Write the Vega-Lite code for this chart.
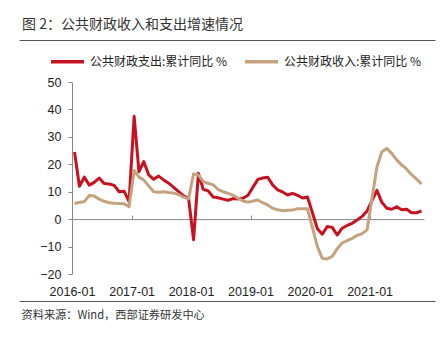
{
  "$schema": "https://vega.github.io/schema/vega-lite/v6.json",
  "width": 416,
  "height": 261,
  "autosize": "none",
  "padding": {"left": 19, "top": 40, "right": 12, "bottom": 39},
  "background": "white",
  "config": {
    "view": {"stroke": "#555555", "strokeWidth": 1, "strokeDash": [416, 261, 416, 261]},
    "font": "Liberation Sans"
  },
  "title": {
    "text": "图 2：公共财政收入和支出增速情况",
    "anchor": "start",
    "frame": "group",
    "dx": 3,
    "offset": 8,
    "fontSize": 14,
    "font": "Noto Sans CJK SC",
    "fontWeight": "normal",
    "color": "#333333"
  },
  "data": {
    "values": [
      {"date": "2016-01", "公共财政支出:累计同比 %": 24.5, "公共财政收入:累计同比 %": 5.7},
      {"date": "2016-02", "公共财政支出:累计同比 %": 12.0, "公共财政收入:累计同比 %": 6.1},
      {"date": "2016-03", "公共财政支出:累计同比 %": 15.3, "公共财政收入:累计同比 %": 6.4},
      {"date": "2016-04", "公共财政支出:累计同比 %": 12.4, "公共财政收入:累计同比 %": 8.6},
      {"date": "2016-05", "公共财政支出:累计同比 %": 13.4, "公共财政收入:累计同比 %": 8.4},
      {"date": "2016-06", "公共财政支出:累计同比 %": 15.0, "公共财政收入:累计同比 %": 7.3},
      {"date": "2016-07", "公共财政支出:累计同比 %": 13.0, "公共财政收入:累计同比 %": 6.5},
      {"date": "2016-08", "公共财政支出:累计同比 %": 12.8, "公共财政收入:累计同比 %": 6.0},
      {"date": "2016-09", "公共财政支出:累计同比 %": 12.3, "公共财政收入:累计同比 %": 5.8},
      {"date": "2016-10", "公共财政支出:累计同比 %": 10.0, "公共财政收入:累计同比 %": 5.7},
      {"date": "2016-11", "公共财政支出:累计同比 %": 10.2, "公共财政收入:累计同比 %": 5.6},
      {"date": "2016-12", "公共财政支出:累计同比 %": 6.4, "公共财政收入:累计同比 %": 4.5},
      {"date": "2017-01", "公共财政支出:累计同比 %": 37.5, "公共财政收入:累计同比 %": 17.7},
      {"date": "2017-02", "公共财政支出:累计同比 %": 17.3, "公共财政收入:累计同比 %": 15.3},
      {"date": "2017-03", "公共财政支出:累计同比 %": 21.0, "公共财政收入:累计同比 %": 14.3},
      {"date": "2017-04", "公共财政支出:累计同比 %": 16.1, "公共财政收入:累计同比 %": 12.1},
      {"date": "2017-05", "公共财政支出:累计同比 %": 14.5, "公共财政收入:累计同比 %": 10.0},
      {"date": "2017-06", "公共财政支出:累计同比 %": 15.7, "公共财政收入:累计同比 %": 9.8},
      {"date": "2017-07", "公共财政支出:累计同比 %": 14.3, "公共财政收入:累计同比 %": 10.0},
      {"date": "2017-08", "公共财政支出:累计同比 %": 13.1, "公共财政收入:累计同比 %": 9.7},
      {"date": "2017-09", "公共财政支出:累计同比 %": 11.6, "公共财政收入:累计同比 %": 9.5},
      {"date": "2017-10", "公共财政支出:累计同比 %": 10.0, "公共财政收入:累计同比 %": 9.0},
      {"date": "2017-11", "公共财政支出:累计同比 %": 8.5, "公共财政收入:累计同比 %": 8.0},
      {"date": "2017-12", "公共财政支出:累计同比 %": 7.6, "公共财政收入:累计同比 %": 7.4},
      {"date": "2018-01", "公共财政支出:累计同比 %": -7.5, "公共财政收入:累计同比 %": 16.5},
      {"date": "2018-02", "公共财政支出:累计同比 %": 16.7, "公共财政收入:累计同比 %": 16.1},
      {"date": "2018-03", "公共财政支出:累计同比 %": 10.9, "公共财政收入:累计同比 %": 13.7},
      {"date": "2018-04", "公共财政支出:累计同比 %": 10.3, "公共财政收入:累计同比 %": 13.1},
      {"date": "2018-05", "公共财政支出:累计同比 %": 8.1, "公共财政收入:累计同比 %": 12.5},
      {"date": "2018-06", "公共财政支出:累计同比 %": 7.8, "公共财政收入:累计同比 %": 10.8},
      {"date": "2018-07", "公共财政支出:累计同比 %": 7.3, "公共财政收入:累计同比 %": 10.0},
      {"date": "2018-08", "公共财政支出:累计同比 %": 6.9, "公共财政收入:累计同比 %": 9.4},
      {"date": "2018-09", "公共财政支出:累计同比 %": 7.5, "公共财政收入:累计同比 %": 8.7},
      {"date": "2018-10", "公共财政支出:累计同比 %": 7.3, "公共财政收入:累计同比 %": 7.6},
      {"date": "2018-11", "公共财政支出:累计同比 %": 7.6, "公共财政收入:累计同比 %": 6.6},
      {"date": "2018-12", "公共财政支出:累计同比 %": 8.7, "公共财政收入:累计同比 %": 6.2},
      {"date": "2019-02", "公共财政支出:累计同比 %": 14.5, "公共财政收入:累计同比 %": 7.0},
      {"date": "2019-03", "公共财政支出:累计同比 %": 15.0, "公共财政收入:累计同比 %": 6.0},
      {"date": "2019-04", "公共财政支出:累计同比 %": 15.3, "公共财政收入:累计同比 %": 5.2},
      {"date": "2019-05", "公共财政支出:累计同比 %": 12.5, "公共财政收入:累计同比 %": 4.0},
      {"date": "2019-06", "公共财政支出:累计同比 %": 10.7, "公共财政收入:累计同比 %": 3.4},
      {"date": "2019-07", "公共财政支出:累计同比 %": 9.9, "公共财政收入:累计同比 %": 3.1},
      {"date": "2019-08", "公共财政支出:累计同比 %": 8.8, "公共财政收入:累计同比 %": 3.2},
      {"date": "2019-09", "公共财政支出:累计同比 %": 9.4, "公共财政收入:累计同比 %": 3.3},
      {"date": "2019-10", "公共财政支出:累计同比 %": 8.7, "公共财政收入:累计同比 %": 3.8},
      {"date": "2019-11", "公共财政支出:累计同比 %": 7.7, "公共财政收入:累计同比 %": 3.8},
      {"date": "2019-12", "公共财政支出:累计同比 %": 8.1, "公共财政收入:累计同比 %": 3.8},
      {"date": "2020-02", "公共财政支出:累计同比 %": -3.5, "公共财政收入:累计同比 %": -10.0},
      {"date": "2020-03", "公共财政支出:累计同比 %": -5.5, "公共财政收入:累计同比 %": -14.3},
      {"date": "2020-04", "公共财政支出:累计同比 %": -2.7, "公共财政收入:累计同比 %": -14.5},
      {"date": "2020-05", "公共财政支出:累计同比 %": -3.0, "公共财政收入:累计同比 %": -13.6},
      {"date": "2020-06", "公共财政支出:累计同比 %": -5.8, "公共财政收入:累计同比 %": -10.8},
      {"date": "2020-07", "公共财政支出:累计同比 %": -3.3, "公共财政收入:累计同比 %": -8.7},
      {"date": "2020-08", "公共财政支出:累计同比 %": -2.3, "公共财政收入:累计同比 %": -7.8},
      {"date": "2020-09", "公共财政支出:累计同比 %": -1.5, "公共财政收入:累计同比 %": -7.0},
      {"date": "2020-10", "公共财政支出:累计同比 %": -0.3, "公共财政收入:累计同比 %": -5.9},
      {"date": "2020-11", "公共财政支出:累计同比 %": 1.0, "公共财政收入:累计同比 %": -5.3},
      {"date": "2020-12", "公共财政支出:累计同比 %": 3.0, "公共财政收入:累计同比 %": -3.9},
      {"date": "2021-02", "公共财政支出:累计同比 %": 10.5, "公共财政收入:累计同比 %": 19.0},
      {"date": "2021-03", "公共财政支出:累计同比 %": 6.2, "公共财政收入:累计同比 %": 24.5},
      {"date": "2021-04", "公共财政支出:累计同比 %": 4.0, "公共财政收入:累计同比 %": 25.8},
      {"date": "2021-05", "公共财政支出:累计同比 %": 3.6, "公共财政收入:累计同比 %": 24.0},
      {"date": "2021-06", "公共财政支出:累计同比 %": 4.5, "公共财政收入:累计同比 %": 21.6},
      {"date": "2021-07", "公共财政支出:累计同比 %": 3.4, "公共财政收入:累计同比 %": 19.8},
      {"date": "2021-08", "公共财政支出:累计同比 %": 3.6, "公共财政收入:累计同比 %": 18.2},
      {"date": "2021-09", "公共财政支出:累计同比 %": 2.3, "公共财政收入:累计同比 %": 16.2},
      {"date": "2021-10", "公共财政支出:累计同比 %": 2.3, "公共财政收入:累计同比 %": 14.6},
      {"date": "2021-11", "公共财政支出:累计同比 %": 3.0, "公共财政收入:累计同比 %": 12.8}
    ]
  },
  "transform": [
    {"fold": ["公共财政支出:累计同比 %", "公共财政收入:累计同比 %"], "as": ["series", "value"]}
  ],
  "mark": {"type": "line", "strokeWidth": 3, "strokeJoin": "round"},
  "encoding": {
    "x": {
      "field": "date",
      "timeUnit": "utcyearmonth",
      "type": "temporal",
      "bandPosition": 0.5,
      "scale": {
        "domain": [{"year": 2016, "month": 1, "date": 1, "utc": true}, {"year": 2021, "month": 12, "date": 1, "utc": true}],
        "range": [53, 405]
      },
      "axis": {
        "values": [
          {"year": 2016, "month": 1, "date": 1, "utc": true},
          {"year": 2017, "month": 1, "date": 1, "utc": true},
          {"year": 2018, "month": 1, "date": 1, "utc": true},
          {"year": 2019, "month": 1, "date": 1, "utc": true},
          {"year": 2020, "month": 1, "date": 1, "utc": true},
          {"year": 2021, "month": 1, "date": 1, "utc": true}
        ],
        "labelExpr": "utcFormat(datum.value, '%Y-%m')",
        "offset": -81.9,
        "grid": false,
        "domainColor": "#888888",
        "tickColor": "#888888",
        "tickSize": -4,
        "labelPadding": 70,
        "labelFlush": false,
        "labelFontSize": 12.5,
        "labelColor": "#222222",
        "labelFont": "Liberation Sans",
        "title": "资料来源：Wind，西部证券研发中心",
        "titleX": 2,
        "titleY": 96,
        "titleAlign": "left",
        "titleAnchor": "start",
        "titleBaseline": "middle",
        "titleFont": "Noto Sans CJK SC",
        "titleFontSize": 11.2,
        "titleFontWeight": "normal",
        "titleColor": "#333333"
      }
    },
    "y": {
      "field": "value",
      "type": "quantitative",
      "scale": {"domain": [-20, 50], "range": [234, 42], "nice": false, "zero": false},
      "axis": {
        "values": [-20, -10, 0, 10, 20, 30, 40, 50],
        "offset": -53,
        "grid": false,
        "domainColor": "#888888",
        "tickColor": "#888888",
        "tickSize": 4,
        "labelPadding": 7,
        "labelFontSize": 12.5,
        "labelColor": "#222222",
        "labelFont": "Liberation Sans",
        "title": null
      }
    },
    "color": {
      "field": "series",
      "type": "nominal",
      "scale": {
        "domain": ["公共财政支出:累计同比 %", "公共财政收入:累计同比 %"],
        "range": ["#C9101F", "#C5A27E"]
      },
      "legend": {
        "orient": "none",
        "legendX": 30,
        "legendY": 3,
        "direction": "horizontal",
        "title": null,
        "symbolType": "stroke",
        "symbolSize": 1089,
        "symbolStrokeWidth": 3.5,
        "labelOffset": 4,
        "columnPadding": 10,
        "labelFontSize": 12,
        "labelFont": "Noto Sans CJK SC",
        "labelColor": "#222222",
        "labelLimit": 300,
        "padding": 0
      }
    }
  }
}
